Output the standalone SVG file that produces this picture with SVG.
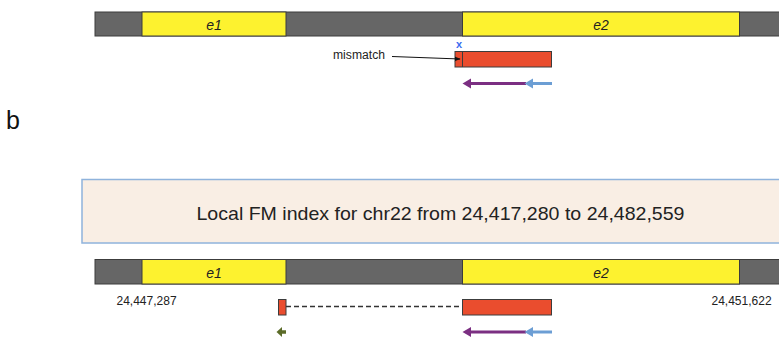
<svg xmlns="http://www.w3.org/2000/svg" width="779" height="337" viewBox="0 0 779 337">
  <style>
    .intron { fill: #666666; stroke: #3c3c3c; stroke-width: 1; }
    .exon { fill: #fdf22f; stroke: #3c3c3c; stroke-width: 1; }
    .exlab { font-family: "Liberation Sans", Arial, sans-serif; font-style: italic; font-size: 14px; fill: #222; text-anchor: middle; }
    .read { fill: #ea4d2e; stroke: #3c3c3c; stroke-width: 1; }
    .num { font-family: "Liberation Sans", Arial, sans-serif; font-size: 12px; fill: #222; }
  </style>
  <defs>
    <marker id="blk" viewBox="0 0 10 10" refX="9" refY="5" markerWidth="6" markerHeight="6" orient="auto">
      <path d="M0,1 L10,5 L0,9 z" fill="#111"/>
    </marker>
  </defs>
  <rect width="779" height="337" fill="#ffffff"/>

  <!-- Top gene track -->
  <g id="gene-top">
    <rect class="intron" x="95" y="12" width="700" height="24"/>
    <rect class="exon" x="142" y="12" width="144" height="24"/>
    <rect class="exon" x="462.5" y="12" width="277" height="24"/>
    <text class="exlab" x="214" y="29.5">e1</text>
    <text class="exlab" x="601" y="29.5">e2</text>
  </g>

  <g id="read-top">
    <rect class="read" x="455" y="51.5" width="96.5" height="15.5"/>
    <line x1="462.5" y1="51.5" x2="462.5" y2="67" stroke="#3c3c3c" stroke-width="1"/>
    <text x="459" y="48" font-family="Liberation Sans, Arial, sans-serif" font-size="11px" font-weight="bold" fill="#3a6cf0" text-anchor="middle">x</text>
  </g>

  <g id="mismatch-label">
    <text x="333" y="59" font-family="Liberation Sans, Arial, sans-serif" font-size="12px" fill="#222" textLength="52" lengthAdjust="spacingAndGlyphs">mismatch</text>
  </g>

  <g id="connectors">
    <line x1="392" y1="56.5" x2="460" y2="59" stroke="#111" stroke-width="1" marker-end="url(#blk)"/>
    <!-- top arrows -->
    <line x1="470" y1="83.5" x2="526" y2="83.5" stroke="#7b2f82" stroke-width="3"/>
    <polygon points="462.5,83.5 471,78.5 471,88.5" fill="#7b2f82"/>
    <line x1="532" y1="83.5" x2="552" y2="83.5" stroke="#6c9ed4" stroke-width="3"/>
    <polygon points="524.5,83.5 533,78.5 533,88.5" fill="#6c9ed4"/>
    <!-- bottom dashed link -->
    <line x1="286" y1="306.5" x2="462.5" y2="306.5" stroke="#333" stroke-width="1.3" stroke-dasharray="5,3"/>
    <!-- bottom arrows -->
    <line x1="470" y1="332" x2="526" y2="332" stroke="#7b2f82" stroke-width="3"/>
    <polygon points="462.5,332 471,327 471,337" fill="#7b2f82"/>
    <line x1="532" y1="332" x2="552" y2="332" stroke="#6c9ed4" stroke-width="3"/>
    <polygon points="524.5,332 533,327 533,337" fill="#6c9ed4"/>
    <line x1="281" y1="332" x2="286" y2="332" stroke="#5b6b28" stroke-width="3.5"/>
    <polygon points="276.5,332 282,327 282,337" fill="#5b6b28"/>
  </g>

  <g id="panel-b">
    <text x="6" y="129" font-family="Liberation Sans, Arial, sans-serif" font-size="25px" fill="#111">b</text>
  </g>

  <g id="fm-index">
    <rect x="82" y="179.5" width="710" height="63.5" fill="#f9eee4" stroke="#8fb3dc" stroke-width="1.5"/>
    <text x="196.5" y="220" font-family="Liberation Sans, Arial, sans-serif" font-size="19px" fill="#222" textLength="488" lengthAdjust="spacingAndGlyphs">Local FM index for chr22 from 24,417,280 to 24,482,559</text>
  </g>

  <!-- Bottom gene track -->
  <g id="gene-bottom">
    <rect class="intron" x="95" y="259.5" width="700" height="24.5"/>
    <rect class="exon" x="142" y="259.5" width="144" height="24.5"/>
    <rect class="exon" x="462.5" y="259.5" width="277" height="24.5"/>
    <text class="exlab" x="214" y="277.5">e1</text>
    <text class="exlab" x="601" y="277.5">e2</text>
  </g>

  <g id="coord-left">
    <text class="num" x="116.5" y="305">24,447,287</text>
  </g>
  <g id="coord-right">
    <text class="num" x="711.5" y="305">24,451,622</text>
  </g>

  <g id="read-bottom-left">
    <rect class="read" x="278.5" y="299.5" width="7.5" height="15.5"/>
  </g>
  <g id="read-bottom-right">
    <rect class="read" x="462.5" y="299.5" width="89" height="15.5"/>
  </g>
</svg>
